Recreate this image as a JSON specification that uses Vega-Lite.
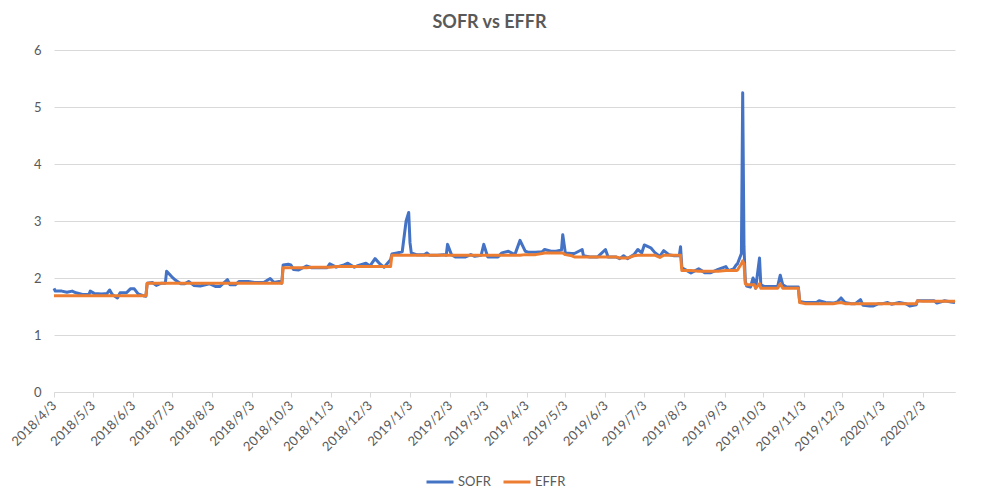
{
  "$schema": "https://vega.github.io/schema/vega-lite/v6.json",
  "width": 901,
  "height": 342,
  "autosize": "none",
  "padding": {"left": 54, "top": 50, "right": 26, "bottom": 111},
  "background": "white",
  "title": {"text": "SOFR vs EFFR", "fontSize": 18, "fontWeight": "bold", "color": "#595959", "font": "Lato", "anchor": "middle", "dx": -15, "offset": 12},
  "data": {"values": [
    {"date":"2018-04-03","SOFR":1.82,"EFFR":1.69},
    {"date":"2018-04-04","SOFR":1.77,"EFFR":1.69},
    {"date":"2018-04-09","SOFR":1.77,"EFFR":1.69},
    {"date":"2018-04-13","SOFR":1.75,"EFFR":1.69},
    {"date":"2018-04-17","SOFR":1.77,"EFFR":1.69},
    {"date":"2018-04-20","SOFR":1.74,"EFFR":1.69},
    {"date":"2018-04-25","SOFR":1.71,"EFFR":1.69},
    {"date":"2018-04-30","SOFR":1.71,"EFFR":1.69},
    {"date":"2018-05-01","SOFR":1.77,"EFFR":1.69},
    {"date":"2018-05-04","SOFR":1.73,"EFFR":1.69},
    {"date":"2018-05-10","SOFR":1.72,"EFFR":1.69},
    {"date":"2018-05-14","SOFR":1.73,"EFFR":1.69},
    {"date":"2018-05-16","SOFR":1.79,"EFFR":1.69},
    {"date":"2018-05-18","SOFR":1.71,"EFFR":1.69},
    {"date":"2018-05-22","SOFR":1.65,"EFFR":1.69},
    {"date":"2018-05-24","SOFR":1.74,"EFFR":1.69},
    {"date":"2018-05-29","SOFR":1.74,"EFFR":1.69},
    {"date":"2018-06-01","SOFR":1.81,"EFFR":1.69},
    {"date":"2018-06-04","SOFR":1.81,"EFFR":1.69},
    {"date":"2018-06-07","SOFR":1.72,"EFFR":1.69},
    {"date":"2018-06-11","SOFR":1.69,"EFFR":1.69},
    {"date":"2018-06-13","SOFR":1.68,"EFFR":1.69},
    {"date":"2018-06-14","SOFR":1.91,"EFFR":1.91},
    {"date":"2018-06-18","SOFR":1.92,"EFFR":1.91},
    {"date":"2018-06-21","SOFR":1.87,"EFFR":1.91},
    {"date":"2018-06-25","SOFR":1.91,"EFFR":1.91},
    {"date":"2018-06-28","SOFR":1.91,"EFFR":1.91},
    {"date":"2018-06-29","SOFR":2.12,"EFFR":1.91},
    {"date":"2018-07-03","SOFR":2.02,"EFFR":1.91},
    {"date":"2018-07-06","SOFR":1.96,"EFFR":1.91},
    {"date":"2018-07-10","SOFR":1.90,"EFFR":1.91},
    {"date":"2018-07-13","SOFR":1.90,"EFFR":1.91},
    {"date":"2018-07-16","SOFR":1.94,"EFFR":1.91},
    {"date":"2018-07-20","SOFR":1.87,"EFFR":1.91},
    {"date":"2018-07-25","SOFR":1.86,"EFFR":1.91},
    {"date":"2018-08-01","SOFR":1.90,"EFFR":1.91},
    {"date":"2018-08-06","SOFR":1.85,"EFFR":1.91},
    {"date":"2018-08-09","SOFR":1.85,"EFFR":1.91},
    {"date":"2018-08-15","SOFR":1.97,"EFFR":1.91},
    {"date":"2018-08-17","SOFR":1.88,"EFFR":1.91},
    {"date":"2018-08-21","SOFR":1.88,"EFFR":1.91},
    {"date":"2018-08-24","SOFR":1.94,"EFFR":1.91},
    {"date":"2018-08-31","SOFR":1.94,"EFFR":1.91},
    {"date":"2018-09-05","SOFR":1.92,"EFFR":1.91},
    {"date":"2018-09-12","SOFR":1.92,"EFFR":1.91},
    {"date":"2018-09-17","SOFR":1.99,"EFFR":1.91},
    {"date":"2018-09-20","SOFR":1.92,"EFFR":1.91},
    {"date":"2018-09-24","SOFR":1.94,"EFFR":1.91},
    {"date":"2018-09-26","SOFR":1.91,"EFFR":1.91},
    {"date":"2018-09-27","SOFR":2.23,"EFFR":2.18},
    {"date":"2018-10-01","SOFR":2.24,"EFFR":2.18},
    {"date":"2018-10-03","SOFR":2.23,"EFFR":2.18},
    {"date":"2018-10-05","SOFR":2.15,"EFFR":2.18},
    {"date":"2018-10-09","SOFR":2.14,"EFFR":2.18},
    {"date":"2018-10-15","SOFR":2.21,"EFFR":2.18},
    {"date":"2018-10-19","SOFR":2.18,"EFFR":2.19},
    {"date":"2018-10-25","SOFR":2.18,"EFFR":2.19},
    {"date":"2018-10-31","SOFR":2.18,"EFFR":2.19},
    {"date":"2018-11-02","SOFR":2.25,"EFFR":2.19},
    {"date":"2018-11-07","SOFR":2.19,"EFFR":2.20},
    {"date":"2018-11-13","SOFR":2.23,"EFFR":2.20},
    {"date":"2018-11-16","SOFR":2.26,"EFFR":2.20},
    {"date":"2018-11-21","SOFR":2.19,"EFFR":2.20},
    {"date":"2018-11-23","SOFR":2.21,"EFFR":2.20},
    {"date":"2018-11-30","SOFR":2.26,"EFFR":2.20},
    {"date":"2018-12-03","SOFR":2.21,"EFFR":2.20},
    {"date":"2018-12-07","SOFR":2.34,"EFFR":2.20},
    {"date":"2018-12-11","SOFR":2.24,"EFFR":2.20},
    {"date":"2018-12-14","SOFR":2.19,"EFFR":2.20},
    {"date":"2018-12-19","SOFR":2.32,"EFFR":2.20},
    {"date":"2018-12-20","SOFR":2.42,"EFFR":2.40},
    {"date":"2018-12-24","SOFR":2.44,"EFFR":2.40},
    {"date":"2018-12-28","SOFR":2.46,"EFFR":2.40},
    {"date":"2018-12-31","SOFR":3.00,"EFFR":2.40},
    {"date":"2019-01-02","SOFR":3.15,"EFFR":2.40},
    {"date":"2019-01-03","SOFR":2.62,"EFFR":2.40},
    {"date":"2019-01-04","SOFR":2.44,"EFFR":2.40},
    {"date":"2019-01-08","SOFR":2.41,"EFFR":2.40},
    {"date":"2019-01-14","SOFR":2.41,"EFFR":2.40},
    {"date":"2019-01-16","SOFR":2.44,"EFFR":2.40},
    {"date":"2019-01-18","SOFR":2.40,"EFFR":2.40},
    {"date":"2019-01-24","SOFR":2.40,"EFFR":2.40},
    {"date":"2019-01-29","SOFR":2.41,"EFFR":2.40},
    {"date":"2019-01-31","SOFR":2.40,"EFFR":2.40},
    {"date":"2019-02-01","SOFR":2.59,"EFFR":2.40},
    {"date":"2019-02-04","SOFR":2.41,"EFFR":2.40},
    {"date":"2019-02-07","SOFR":2.37,"EFFR":2.40},
    {"date":"2019-02-12","SOFR":2.37,"EFFR":2.40},
    {"date":"2019-02-15","SOFR":2.37,"EFFR":2.40},
    {"date":"2019-02-19","SOFR":2.41,"EFFR":2.40},
    {"date":"2019-02-22","SOFR":2.38,"EFFR":2.40},
    {"date":"2019-02-27","SOFR":2.40,"EFFR":2.40},
    {"date":"2019-03-01","SOFR":2.59,"EFFR":2.40},
    {"date":"2019-03-04","SOFR":2.37,"EFFR":2.40},
    {"date":"2019-03-08","SOFR":2.37,"EFFR":2.40},
    {"date":"2019-03-12","SOFR":2.37,"EFFR":2.40},
    {"date":"2019-03-15","SOFR":2.44,"EFFR":2.40},
    {"date":"2019-03-20","SOFR":2.47,"EFFR":2.40},
    {"date":"2019-03-25","SOFR":2.41,"EFFR":2.40},
    {"date":"2019-03-29","SOFR":2.66,"EFFR":2.40},
    {"date":"2019-04-02","SOFR":2.47,"EFFR":2.41},
    {"date":"2019-04-05","SOFR":2.45,"EFFR":2.41},
    {"date":"2019-04-10","SOFR":2.45,"EFFR":2.41},
    {"date":"2019-04-15","SOFR":2.46,"EFFR":2.43},
    {"date":"2019-04-17","SOFR":2.50,"EFFR":2.44},
    {"date":"2019-04-22","SOFR":2.47,"EFFR":2.44},
    {"date":"2019-04-26","SOFR":2.47,"EFFR":2.44},
    {"date":"2019-04-30","SOFR":2.49,"EFFR":2.44},
    {"date":"2019-05-01","SOFR":2.76,"EFFR":2.44},
    {"date":"2019-05-03","SOFR":2.44,"EFFR":2.41},
    {"date":"2019-05-08","SOFR":2.43,"EFFR":2.39},
    {"date":"2019-05-10","SOFR":2.43,"EFFR":2.37},
    {"date":"2019-05-16","SOFR":2.50,"EFFR":2.37},
    {"date":"2019-05-17","SOFR":2.39,"EFFR":2.37},
    {"date":"2019-05-22","SOFR":2.37,"EFFR":2.37},
    {"date":"2019-05-28","SOFR":2.37,"EFFR":2.37},
    {"date":"2019-06-03","SOFR":2.50,"EFFR":2.37},
    {"date":"2019-06-05","SOFR":2.37,"EFFR":2.37},
    {"date":"2019-06-11","SOFR":2.37,"EFFR":2.37},
    {"date":"2019-06-14","SOFR":2.34,"EFFR":2.35},
    {"date":"2019-06-17","SOFR":2.39,"EFFR":2.35},
    {"date":"2019-06-20","SOFR":2.34,"EFFR":2.35},
    {"date":"2019-06-25","SOFR":2.41,"EFFR":2.39},
    {"date":"2019-06-28","SOFR":2.50,"EFFR":2.40},
    {"date":"2019-07-01","SOFR":2.44,"EFFR":2.40},
    {"date":"2019-07-03","SOFR":2.58,"EFFR":2.40},
    {"date":"2019-07-08","SOFR":2.53,"EFFR":2.40},
    {"date":"2019-07-11","SOFR":2.45,"EFFR":2.40},
    {"date":"2019-07-15","SOFR":2.38,"EFFR":2.36},
    {"date":"2019-07-18","SOFR":2.48,"EFFR":2.40},
    {"date":"2019-07-22","SOFR":2.41,"EFFR":2.40},
    {"date":"2019-07-26","SOFR":2.39,"EFFR":2.40},
    {"date":"2019-07-30","SOFR":2.39,"EFFR":2.40},
    {"date":"2019-07-31","SOFR":2.55,"EFFR":2.40},
    {"date":"2019-08-01","SOFR":2.18,"EFFR":2.13},
    {"date":"2019-08-05","SOFR":2.13,"EFFR":2.13},
    {"date":"2019-08-08","SOFR":2.09,"EFFR":2.13},
    {"date":"2019-08-14","SOFR":2.16,"EFFR":2.12},
    {"date":"2019-08-19","SOFR":2.09,"EFFR":2.12},
    {"date":"2019-08-23","SOFR":2.09,"EFFR":2.12},
    {"date":"2019-08-29","SOFR":2.15,"EFFR":2.12},
    {"date":"2019-09-04","SOFR":2.20,"EFFR":2.13},
    {"date":"2019-09-06","SOFR":2.13,"EFFR":2.13},
    {"date":"2019-09-10","SOFR":2.16,"EFFR":2.13},
    {"date":"2019-09-12","SOFR":2.23,"EFFR":2.13},
    {"date":"2019-09-13","SOFR":2.25,"EFFR":2.14},
    {"date":"2019-09-16","SOFR":2.43,"EFFR":2.25},
    {"date":"2019-09-17","SOFR":5.25,"EFFR":2.30},
    {"date":"2019-09-18","SOFR":2.55,"EFFR":2.25},
    {"date":"2019-09-19","SOFR":1.95,"EFFR":1.90},
    {"date":"2019-09-20","SOFR":1.86,"EFFR":1.88},
    {"date":"2019-09-23","SOFR":1.84,"EFFR":1.88},
    {"date":"2019-09-25","SOFR":2.00,"EFFR":1.88},
    {"date":"2019-09-26","SOFR":1.95,"EFFR":1.88},
    {"date":"2019-09-27","SOFR":1.82,"EFFR":1.82},
    {"date":"2019-09-30","SOFR":2.35,"EFFR":1.90},
    {"date":"2019-10-01","SOFR":1.88,"EFFR":1.82},
    {"date":"2019-10-04","SOFR":1.85,"EFFR":1.82},
    {"date":"2019-10-09","SOFR":1.85,"EFFR":1.82},
    {"date":"2019-10-14","SOFR":1.85,"EFFR":1.82},
    {"date":"2019-10-16","SOFR":2.05,"EFFR":1.90},
    {"date":"2019-10-18","SOFR":1.88,"EFFR":1.82},
    {"date":"2019-10-21","SOFR":1.84,"EFFR":1.82},
    {"date":"2019-10-25","SOFR":1.84,"EFFR":1.82},
    {"date":"2019-10-30","SOFR":1.84,"EFFR":1.82},
    {"date":"2019-10-31","SOFR":1.59,"EFFR":1.57},
    {"date":"2019-11-04","SOFR":1.57,"EFFR":1.55},
    {"date":"2019-11-08","SOFR":1.57,"EFFR":1.55},
    {"date":"2019-11-13","SOFR":1.57,"EFFR":1.55},
    {"date":"2019-11-15","SOFR":1.60,"EFFR":1.55},
    {"date":"2019-11-20","SOFR":1.57,"EFFR":1.55},
    {"date":"2019-11-26","SOFR":1.56,"EFFR":1.55},
    {"date":"2019-11-29","SOFR":1.58,"EFFR":1.56},
    {"date":"2019-12-02","SOFR":1.65,"EFFR":1.57},
    {"date":"2019-12-05","SOFR":1.57,"EFFR":1.55},
    {"date":"2019-12-10","SOFR":1.55,"EFFR":1.55},
    {"date":"2019-12-13","SOFR":1.55,"EFFR":1.55},
    {"date":"2019-12-17","SOFR":1.62,"EFFR":1.55},
    {"date":"2019-12-19","SOFR":1.52,"EFFR":1.55},
    {"date":"2019-12-24","SOFR":1.51,"EFFR":1.55},
    {"date":"2019-12-27","SOFR":1.51,"EFFR":1.55},
    {"date":"2019-12-31","SOFR":1.55,"EFFR":1.55},
    {"date":"2020-01-03","SOFR":1.55,"EFFR":1.55},
    {"date":"2020-01-07","SOFR":1.57,"EFFR":1.55},
    {"date":"2020-01-10","SOFR":1.54,"EFFR":1.55},
    {"date":"2020-01-16","SOFR":1.57,"EFFR":1.55},
    {"date":"2020-01-21","SOFR":1.55,"EFFR":1.55},
    {"date":"2020-01-24","SOFR":1.51,"EFFR":1.55},
    {"date":"2020-01-29","SOFR":1.53,"EFFR":1.55},
    {"date":"2020-01-30","SOFR":1.60,"EFFR":1.60},
    {"date":"2020-02-03","SOFR":1.60,"EFFR":1.59},
    {"date":"2020-02-07","SOFR":1.60,"EFFR":1.59},
    {"date":"2020-02-12","SOFR":1.60,"EFFR":1.59},
    {"date":"2020-02-14","SOFR":1.56,"EFFR":1.59},
    {"date":"2020-02-20","SOFR":1.60,"EFFR":1.59},
    {"date":"2020-02-25","SOFR":1.58,"EFFR":1.59},
    {"date":"2020-02-28","SOFR":1.57,"EFFR":1.59}
  ]},
  "transform": [{"fold": ["SOFR", "EFFR"], "as": ["series", "rate"]}],
  "encoding": {
    "x": {
      "field": "date", "type": "temporal",
      "scale": {"type": "utc", "domain": [{"year": 2018, "month": 4, "date": 3, "utc": true}, {"year": 2020, "month": 2, "date": 28, "utc": true}]},
      "axis": {
        "title": null,
        "labelExpr": "utcFormat(datum.value, '%Y/%-m/%-d')",
        "values": [
          {"year":2018,"month":4,"date":3,"utc":true},{"year":2018,"month":5,"date":3,"utc":true},{"year":2018,"month":6,"date":3,"utc":true},
          {"year":2018,"month":7,"date":3,"utc":true},{"year":2018,"month":8,"date":3,"utc":true},{"year":2018,"month":9,"date":3,"utc":true},
          {"year":2018,"month":10,"date":3,"utc":true},{"year":2018,"month":11,"date":3,"utc":true},{"year":2018,"month":12,"date":3,"utc":true},
          {"year":2019,"month":1,"date":3,"utc":true},{"year":2019,"month":2,"date":3,"utc":true},{"year":2019,"month":3,"date":3,"utc":true},
          {"year":2019,"month":4,"date":3,"utc":true},{"year":2019,"month":5,"date":3,"utc":true},{"year":2019,"month":6,"date":3,"utc":true},
          {"year":2019,"month":7,"date":3,"utc":true},{"year":2019,"month":8,"date":3,"utc":true},{"year":2019,"month":9,"date":3,"utc":true},
          {"year":2019,"month":10,"date":3,"utc":true},{"year":2019,"month":11,"date":3,"utc":true},{"year":2019,"month":12,"date":3,"utc":true},
          {"year":2020,"month":1,"date":3,"utc":true},{"year":2020,"month":2,"date":3,"utc":true}
        ],
        "labelAngle": -45,
        "labelAlign": "right",
        "labelBaseline": "middle",
        "labelPadding": 6,
        "labelFont": "Lato",
        "labelFontSize": 13,
        "labelColor": "#595959",
        "labelOverlap": false,
        "labelFlush": false,
        "domainColor": "#d9d9d9",
        "domainWidth": 1,
        "tickColor": "#d9d9d9",
        "tickSize": 5,
        "grid": false
      }
    },
    "y": {
      "field": "rate", "type": "quantitative",
      "scale": {"domain": [0, 6]},
      "axis": {
        "title": null,
        "values": [0, 1, 2, 3, 4, 5, 6],
        "domain": false,
        "ticks": false,
        "labelPadding": 13,
        "labelFont": "Lato",
        "labelFontSize": 13,
        "labelColor": "#595959",
        "gridColor": "#d9d9d9",
        "gridWidth": 1
      }
    },
    "color": {
      "field": "series", "type": "nominal",
      "scale": {"domain": ["SOFR", "EFFR"], "range": ["#4472C4", "#ED7D31"]},
      "legend": {
        "orient": "none", "legendX": 371, "legendY": 417, "direction": "horizontal", "title": null,
        "symbolType": "stroke", "symbolStrokeWidth": 3, "symbolSize": 729,
        "labelFont": "Lato", "labelFontSize": 13, "labelColor": "#595959",
        "columnPadding": 6, "labelOffset": 3
      }
    }
  },
  "layer": [
    {"transform": [{"filter": "datum.series === 'SOFR'"}], "mark": {"type": "line", "strokeWidth": 3, "strokeJoin": "round"}},
    {"transform": [{"filter": "datum.series === 'EFFR'"}], "mark": {"type": "line", "strokeWidth": 3, "strokeJoin": "round"}}
  ],
  "config": {"view": {"stroke": null}}
}
